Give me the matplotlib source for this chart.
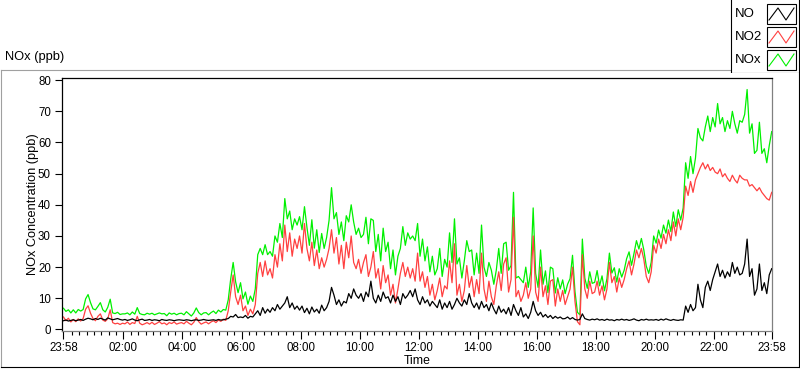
#!/usr/bin/env python3
import numpy as np
import matplotlib
matplotlib.use("Agg")
import matplotlib.pyplot as plt
from matplotlib.patches import Rectangle

# NOx readings, one every 5 minutes from 23:58 to 23:58 next day (one row per hour)
no_ppb = [
    2.8, 3.0, 2.7, 2.9, 3.1, 2.8, 3.0, 3.2, 2.9, 3.3, 3.6, 3.4,
    3.1, 3.5, 3.2, 3.6, 3.3, 3.0, 3.7, 3.4, 3.1, 3.3, 3.5, 3.2,
    3.0, 3.2, 2.9, 3.1, 3.4, 3.0, 2.8, 3.1, 3.3, 2.9, 3.0, 3.2,
    2.9, 3.1, 3.0, 2.8, 3.2, 3.0, 2.9, 3.1, 3.0, 2.8, 3.0, 3.1,
    3.0, 2.9, 3.1, 3.0, 2.8, 3.0, 3.1, 2.9, 3.0, 3.2, 3.0, 2.9,
    3.0, 3.1, 2.9, 3.2, 3.0, 3.1, 3.3, 3.5, 4.2, 4.0, 4.8, 3.8,
    4.0, 3.8, 4.5, 3.6, 4.2, 4.0, 5.0, 6.0, 4.5, 7.0, 5.2, 6.5,
    5.5, 7.0, 6.0, 8.0, 6.5, 7.5, 8.5, 10.5, 7.0, 8.5, 6.5, 7.5,
    6.2, 7.5, 5.4, 6.8, 5.0, 7.2, 5.6, 6.5, 5.2, 7.8, 6.0, 7.0,
    9.0, 13.5, 11.0, 8.0, 9.5, 7.5, 9.0, 8.5, 11.5, 10.0, 13.0, 11.0,
    10.0, 11.5, 9.0, 12.0, 10.5, 15.5, 10.0, 8.5, 11.0, 9.0, 12.0, 10.0,
    10.5, 8.5, 11.0, 9.0, 10.5, 8.0, 11.5, 10.0, 11.0, 12.5, 10.5, 13.0,
    9.5, 8.0, 10.5, 8.5, 9.5, 7.5, 9.0, 8.0, 7.0, 9.5, 6.5, 8.5,
    7.0, 9.0, 6.5, 8.0, 10.0, 8.5, 7.5, 9.5, 8.0, 11.5, 8.5, 7.0,
    8.5, 6.5, 9.0, 7.0, 8.0, 6.0, 8.5, 6.5, 5.0, 7.5, 5.5, 6.5,
    5.0, 7.0, 4.5, 8.0, 6.0, 4.5, 7.0, 4.0, 5.0, 3.5, 5.5, 9.0,
    6.0, 4.5, 5.5, 4.0, 4.8, 3.8, 4.5, 3.5, 4.2, 3.6, 4.0, 3.4,
    3.5, 4.0, 3.3, 3.8, 3.2, 3.0, 3.2, 5.0, 3.5, 3.2, 3.0, 3.3,
    3.1, 3.4, 3.0, 3.2, 2.9, 3.3, 3.0, 3.1, 2.8, 3.2, 3.0, 3.3,
    3.0, 3.2, 2.9, 3.1, 3.4, 3.0, 2.8, 3.2, 3.0, 3.3, 3.0, 3.1,
    3.0, 3.2, 2.9, 3.3, 3.0, 3.4, 3.1, 2.9, 3.2, 3.0, 2.9, 3.1,
    3.0, 7.5, 5.5, 8.0, 6.0, 7.0, 14.5, 9.5, 7.0, 13.5, 15.5, 12.5,
    16.0, 18.5, 21.0, 17.0, 19.0, 16.5, 18.5, 17.0, 21.5, 18.0, 20.0, 17.5,
    18.0, 21.0, 29.0, 17.0, 19.5, 11.0, 13.0, 21.0, 12.5, 15.0, 11.5, 17.5,
    19.5,
]

no2_ppb = [
    4.0, 2.8, 3.6, 2.4, 3.2, 2.5, 3.4, 2.7, 3.5, 6.5, 7.6, 5.2,
    3.5, 2.8, 4.2, 5.0, 3.0, 2.6, 3.4, 6.3, 2.2, 1.8, 2.0, 1.6,
    2.0, 1.8, 2.4, 1.6, 2.2, 1.9, 4.2, 2.0, 1.5, 1.8, 2.2, 1.7,
    2.3, 1.6, 2.0, 2.5, 1.8, 2.1, 1.5, 2.2, 1.9, 2.4, 1.7, 2.0,
    2.2, 1.8, 2.6, 2.0, 1.5, 2.3, 3.8, 2.5, 1.7, 2.1, 2.4, 1.8,
    2.4, 2.8, 2.2, 3.0, 2.6, 3.3, 2.9, 6.0, 12.0, 17.5, 10.5, 8.0,
    11.0, 6.0, 7.5, 4.5, 6.5, 5.0, 8.0, 18.0, 21.5, 17.0, 22.0, 17.5,
    19.5, 16.5, 24.0, 20.0, 27.5, 22.0, 33.5, 25.0, 31.0, 23.5, 29.0, 26.0,
    30.0, 24.5, 34.0, 26.0, 22.0, 28.0, 20.5, 25.5, 19.5, 23.0, 20.0, 22.5,
    26.0, 32.0, 24.5, 29.5, 21.0, 27.0, 19.5, 28.0, 23.0, 30.0, 21.5, 19.5,
    22.5, 18.0, 21.5, 24.0, 17.0, 20.0, 25.0, 16.5, 19.5, 13.0, 20.5, 15.0,
    17.5, 11.0, 14.5, 8.5, 13.0, 18.0, 21.5, 17.0, 20.0, 16.5, 19.5, 15.5,
    24.5, 15.5, 18.5, 13.5, 17.0, 11.0, 14.5, 9.5, 12.5, 16.5, 10.5, 14.0,
    13.0, 22.0, 15.0, 27.5, 11.0, 14.5, 9.0, 12.5, 20.5, 13.5, 17.0, 10.5,
    16.0, 11.5, 24.5, 13.0, 9.0, 15.5, 10.5, 8.0, 14.0, 18.5, 12.5, 21.0,
    23.0, 12.0, 16.0, 36.0, 10.5, 12.5, 9.0, 11.0, 15.0, 10.0, 13.0, 30.0,
    12.0, 9.0, 20.0, 10.5, 14.0, 8.0, 15.5, 16.0, 7.5, 13.0, 9.0, 12.5,
    8.0, 10.5, 13.0, 20.0, 9.0, 2.5, 1.5, 24.0, 13.0, 10.0, 15.5, 11.5,
    12.0, 15.5, 11.0, 14.0, 9.5, 13.0, 21.5, 15.0, 17.0, 12.0, 16.5, 13.5,
    16.0, 19.5, 22.0, 17.5, 21.0, 25.5, 23.0, 26.0, 22.5, 17.0, 15.0, 18.5,
    27.0, 24.5, 29.0, 26.0, 30.5, 27.5, 32.0, 28.5, 34.5, 30.0, 35.5, 32.0,
    36.0, 46.0, 43.0, 47.5, 44.0, 48.0, 50.0, 52.0, 53.5, 51.5, 53.0, 51.0,
    52.0, 50.5, 50.0, 51.5, 49.0, 50.0, 48.5, 47.5, 49.5, 48.0, 47.0, 49.5,
    48.5, 48.0, 48.0, 46.0, 46.5, 45.5, 44.5, 45.5, 44.0, 43.0, 42.0, 41.5,
    44.0,
]

nox_ppb = [
    6.8, 5.8, 6.3, 5.3, 6.3, 5.3, 6.4, 5.9, 6.4, 9.8, 11.2, 8.6,
    6.6, 6.3, 7.4, 8.6, 6.3, 5.6, 7.1, 9.7, 5.3, 5.1, 5.5, 4.8,
    5.0, 5.0, 5.3, 4.7, 5.6, 4.9, 7.0, 5.1, 4.8, 4.7, 5.2, 4.9,
    5.2, 4.7, 5.0, 5.3, 5.0, 5.1, 4.4, 5.3, 4.9, 5.2, 4.7, 5.1,
    5.2, 4.7, 5.7, 5.0, 4.3, 5.3, 6.9, 5.4, 4.7, 5.3, 5.4, 4.7,
    5.4, 5.9, 5.1, 6.2, 5.6, 6.4, 6.2, 9.5, 16.2, 21.5, 15.3, 11.8,
    15.0, 9.8, 12.0, 8.1, 10.7, 9.0, 13.0, 24.0, 26.0, 24.0, 27.2, 24.0,
    25.0, 23.5, 30.0, 28.0, 34.0, 29.5, 42.0, 35.5, 38.0, 32.0, 35.5, 33.5,
    36.2, 32.0, 39.4, 32.8, 27.0, 35.2, 26.1, 32.0, 24.7, 30.8, 26.0, 29.5,
    35.0, 45.5, 35.5, 37.5, 30.5, 34.5, 28.5, 36.5, 34.5, 40.0, 34.5, 30.5,
    32.5, 29.5, 30.5, 36.0, 27.5, 35.5, 35.0, 25.0, 30.5, 22.0, 32.5, 25.0,
    28.0, 19.5, 25.5, 17.5, 23.5, 26.0, 33.0, 27.0, 31.0, 29.0, 30.0, 28.5,
    34.0, 23.5, 29.0, 22.0, 26.5, 18.5, 23.5, 17.5, 19.5, 26.0, 17.0, 22.5,
    20.0, 31.0, 21.5, 35.5, 21.0, 23.0, 16.5, 22.0, 28.5, 25.0, 25.5, 17.5,
    24.5, 18.0, 33.5, 20.0, 17.0, 21.5, 19.0, 14.5, 19.0, 26.0, 18.0, 27.5,
    28.0, 19.0, 20.5, 44.0, 16.5, 17.0, 16.0, 15.0, 20.0, 13.5, 18.5, 39.0,
    18.0, 13.5, 25.5, 14.5, 18.8, 11.8, 20.0, 19.5, 11.7, 16.6, 13.0, 15.9,
    11.5, 14.5, 16.3, 23.8, 12.2, 5.5, 4.7, 29.0, 16.5, 13.2, 18.5, 14.8,
    15.1, 18.9, 14.0, 17.2, 12.4, 16.3, 24.5, 18.1, 19.8, 15.2, 19.5, 16.8,
    19.0, 22.7, 24.9, 20.6, 24.4, 28.5, 25.8, 29.2, 25.5, 20.3, 18.0, 21.6,
    30.0, 27.7, 31.9, 29.3, 33.5, 30.9, 35.1, 31.4, 37.7, 33.0, 38.4, 35.1,
    39.0, 53.5, 48.5, 55.5, 50.0, 55.0, 64.5, 61.5, 60.5, 65.0, 68.5, 63.5,
    68.0, 65.0, 72.5, 66.0, 68.0, 63.5, 67.0, 64.5, 70.0, 66.0, 63.0, 67.0,
    66.5, 69.0, 77.0, 63.0, 66.0, 56.5, 57.5, 66.5, 56.5, 58.0, 53.5, 59.0,
    63.5,
]

series_names = ["NO", "NO2", "NOx"]
series_colors = ["black", "#ff4040", "#00f000"]

x_tick_labels = ["23:58", "02:00", "04:00", "06:00", "08:00", "10:00", "12:00",
                 "14:00", "16:00", "18:00", "20:00", "22:00", "23:58"]
y_ticks = [0, 10, 20, 30, 40, 50, 60, 70, 80]

plt.rcParams['font.family'] = ['Liberation Sans', 'DejaVu Sans']

# time axis in hours from midnight, sampled every 5 minutes from 23:58
hours = -2 / 60 + np.arange(len(no_ppb)) * 5 / 60

fig = plt.figure(figsize=(8, 3.69), dpi=100)

# outer panel frame (pixel coordinates)
frame = fig.add_axes([0, 0, 1, 1], zorder=0)
frame.set_xlim(0, 800)
frame.set_ylim(369, 0)
frame.axis('off')
frame.plot([0.5, 0.5], [69.5, 366.5], color='#a0a0a0', lw=0.8)
frame.plot([0.5, 730], [69.5, 69.5], color='#a0a0a0', lw=0.8)
frame.plot([0.5, 799], [366.5, 366.5], color='black', lw=0.8)
frame.plot([799, 799], [72.5, 366.5], color='black', lw=0.8)

fig.text(5 / 800, 1 - 57 / 369, "NOx (ppb)", fontsize=9.3, va='center', ha='left')

# main plot
ax = fig.add_axes([62 / 800, 38 / 369, 710 / 800, 253 / 369], zorder=2)
ax.plot(hours, nox_ppb, color=series_colors[2], lw=0.9, zorder=1)
ax.plot(hours, no2_ppb, color=series_colors[1], lw=0.9, zorder=2)
ax.plot(hours, no_ppb, color=series_colors[0], lw=0.9, zorder=3)

ax.set_xlim(hours[0] - 0.05, hours[-1] + 0.01)
ax.set_ylim(-0.5, 80.7)

major_x = [hours[0]] + list(range(2, 24, 2)) + [hours[-1]]
ax.set_xticks(major_x)
ax.set_xticklabels(x_tick_labels)
minor_x = [q / 4 for q in range(1, 96) if q % 8 != 0]
ax.set_xticks(minor_x, minor=True)
ax.set_yticks(y_ticks)
ax.set_yticklabels([str(v) for v in y_ticks])

ax.tick_params(axis='x', which='major', direction='out', length=6, width=0.8,
               pad=2, labelsize=8.3)
ax.tick_params(axis='x', which='minor', direction='out', length=3, width=0.8)
ax.tick_params(axis='y', which='major', direction='out', length=5, width=0.8,
               pad=3, labelsize=8.3)

for side, col in [('left', 'black'), ('top', 'black'),
                  ('right', '#808080'), ('bottom', '#808080')]:
    ax.spines[side].set_color(col)
    ax.spines[side].set_linewidth(0.9)

ax.set_ylabel("NOx Concentration (ppb)", fontsize=9.2)
ax.yaxis.set_label_coords(-0.033, 0.5)
ax.set_xlabel("Time", fontsize=8.8)
ax.xaxis.set_label_coords(0.5, -0.093)

# legend box in the top right corner
leg = fig.add_axes([730 / 800, 1 - 73 / 369, 70 / 800, 73 / 369], zorder=3)
leg.set_xlim(730, 800)
leg.set_ylim(73, 0)
leg.axis('off')
leg.plot([730.5, 730.5], [0, 72.5], color='black', lw=0.8)
leg.plot([730.5, 799], [72.5, 72.5], color='black', lw=0.8)
leg.plot([799, 799], [0, 72.5], color='black', lw=0.8)
for i, (name, col) in enumerate(zip(series_names, series_colors)):
    top = 4 + i * 23
    leg.text(735, top + 10, name, fontsize=9.5, va='center', ha='left')
    leg.add_patch(Rectangle((767, top), 29, 20, fill=False, ec='black', lw=0.8))
    leg.plot([769, 778, 786, 794], [top + 16, top + 4, top + 16, top + 4],
             color=col, lw=0.8)

fig.savefig("out.png", dpi=100)
